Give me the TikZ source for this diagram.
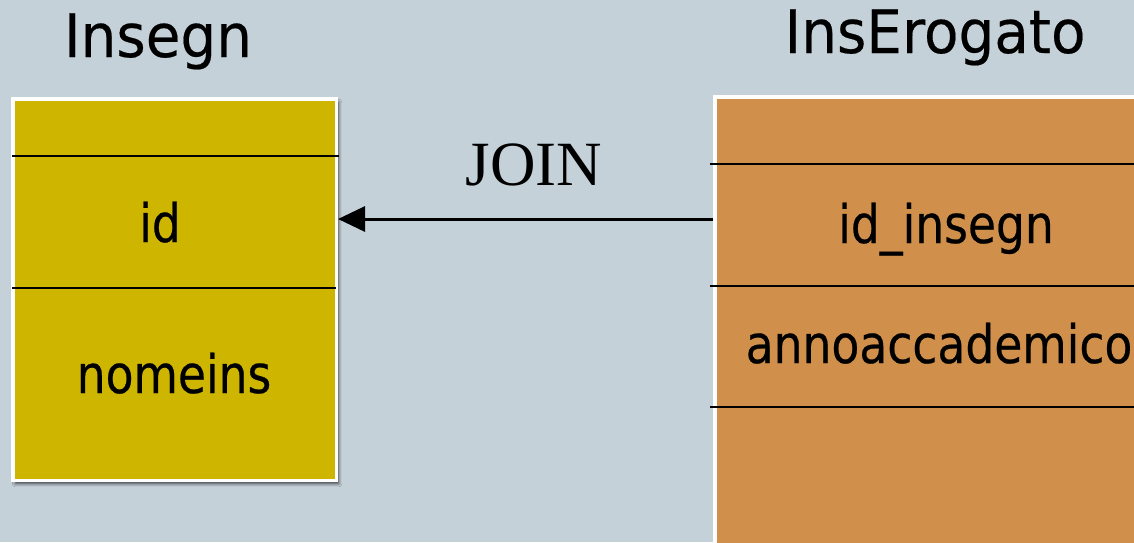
\documentclass[tikz,border=0pt]{standalone}
\usepackage{fontspec}
\setmainfont{DejaVu Sans}[FakeStretch=0.86, FakeBold=0.4]
\newfontfamily\titlefont{DejaVu Sans}[FakeStretch=0.94, FakeBold=0.3]
\newfontfamily\joinfont{Liberation Serif}
\usetikzlibrary{arrows.meta,shadows.blur}
\definecolor{bg}{HTML}{C5D1D8}
\definecolor{yel}{HTML}{CEB500}
\definecolor{ora}{HTML}{D0904B}
\tikzset{
  tablebox/.style={draw=white, line width=3.5pt, inner sep=0pt,
    blur shadow={shadow xshift=2.5pt, shadow yshift=-3.5pt, shadow blur radius=3pt, shadow opacity=70}},
  sep/.style={line width=1.7pt, black},
  body/.style={font=\fontsize{53}{60}\selectfont, anchor=base, inner sep=0pt},
  title/.style={font=\titlefont\fontsize{60}{66}\selectfont, anchor=base, inner sep=0pt},
}
\begin{document}
\begin{tikzpicture}[x=1pt, y=-1pt]
\useasboundingbox (0,0) rectangle (1134,542);
\clip (0,0) rectangle (1134,542);
\fill[bg] (0,0) rectangle (1134,542);
% boxes
\node[tablebox, fill=yel, minimum width=323.5pt, minimum height=381.5pt] (insegn) at (174.5,289.5) {};
\node[tablebox, fill=ora, minimum width=485pt, minimum height=503pt] (ero) at (957.5,348.5) {};
% separators
\draw[sep] (12,156) -- (339,156);
\draw[sep] (12,288) -- (336,288);
\draw[sep] (710,164) -- (1134,164);
\draw[sep] (710,286) -- (1134,286);
\draw[sep] (710,407) -- (1134,407);
% titles
\node[title] (t1) at (158,57) {Insegn};
\node[title] (t2) at (935,53) {InsErogato};
% fields
\node[body] (f1) at (160,242) {id};
\node[body] (f2) at (174,393) {nomeins};
\node[body] (f3) at (946,243) {id\_insegn};
\node[body] (f4) at (939,363) {annoaccademico};
% join
\node[font=\joinfont\fontsize{63}{70}\selectfont, anchor=base, inner sep=0pt] (jl) at (534,185) {JOIN};
\draw[line width=3pt, -{Triangle[length=27pt, width=25pt]}] (ero.west |- 0,219) -- (insegn.east |- 0,219);
\end{tikzpicture}
\end{document}
